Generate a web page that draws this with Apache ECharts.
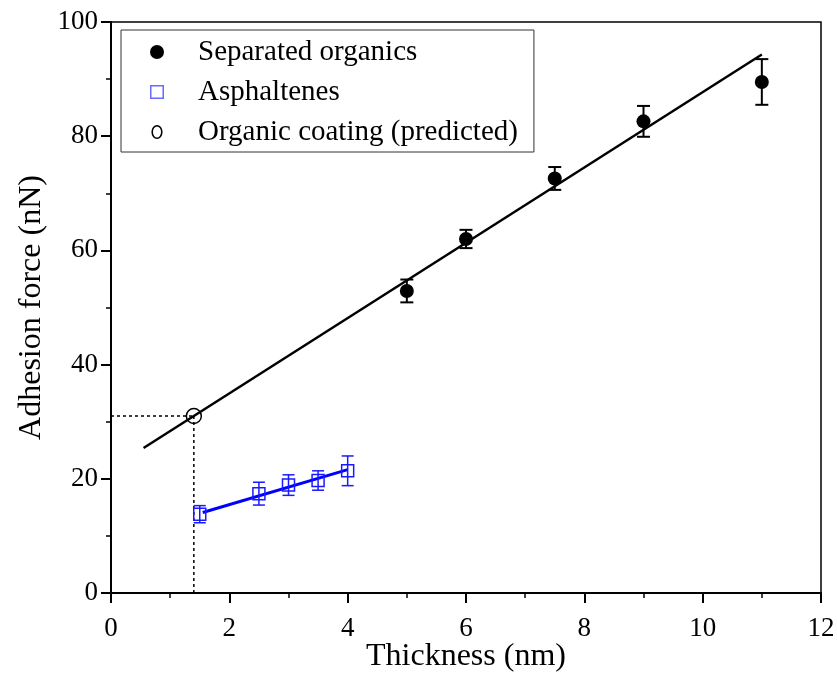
<!DOCTYPE html>
<html>
<head>
<meta charset="utf-8">
<script src="https://cdn.jsdelivr.net/npm/echarts@6/dist/echarts.min.js"></script>
<style>
  html, body { margin: 0; padding: 0; background: #fff; }
  #chart { width: 837px; height: 673px; }
</style>
</head>
<body>
<div id="chart"></div>
<script>
// Separated organics: thickness (nm), adhesion force (nN), error (nN)
const sepThickness = [5, 6, 7.5, 9, 11];
const sepForce     = [52.9, 62.0, 72.6, 82.6, 89.5];
const sepError     = [2.0, 1.6, 2.0, 2.7, 4.0];

// Asphaltenes
const aspThickness = [1.5, 2.5, 3.0, 3.5, 4.0];
const aspForce     = [13.8, 17.4, 18.9, 19.7, 21.4];
const aspError     = [1.5, 2.0, 1.8, 1.7, 2.6];

// Linear fits (end points)
const sepFitX = [0.55, 11.0];
const sepFitY = [25.4, 94.3];
const aspFitX = [1.55, 4.0];
const aspFitY = [14.1, 21.6];

// Predicted organic coating
const predThickness = [1.4];
const predForce     = [31];

// Axis ticks
const xTicks = [0, 2, 4, 6, 8, 10, 12];
const yTicks = [0, 20, 40, 60, 80, 100];

const FONT = '"Liberation Serif", "Times New Roman", serif';
const BLUE = '#1a1aff';

function errorBars(xs, ys, es, color, cap, width) {
  return {
    type: 'custom',
    silent: true,
    z: 3,
    data: xs.map((x, i) => [x, ys[i], es[i]]),
    renderItem: (params, api) => {
      const x = api.value(0), y = api.value(1), e = api.value(2);
      const top = api.coord([x, y + e]);
      const bot = api.coord([x, y - e]);
      const st = { stroke: color, lineWidth: width, fill: null };
      return {
        type: 'group',
        children: [
          { type: 'line', shape: { x1: top[0], y1: top[1], x2: bot[0], y2: bot[1] }, style: st },
          { type: 'line', shape: { x1: top[0] - cap / 2, y1: top[1], x2: top[0] + cap / 2, y2: top[1] }, style: st },
          { type: 'line', shape: { x1: bot[0] - cap / 2, y1: bot[1], x2: bot[0] + cap / 2, y2: bot[1] }, style: st }
        ]
      };
    }
  };
}

const chart = echarts.init(document.getElementById('chart'), null, { renderer: 'canvas' });

const option = {
  backgroundColor: '#fff',
  animation: false,
  grid: {
    left: 111, right: 16, top: 22, bottom: 80,
    outerBoundsMode: 'none', containLabel: false,
    show: true, borderColor: '#000', borderWidth: 1.5, backgroundColor: 'transparent'
  },
  legend: {
    orient: 'vertical',
    left: 121, top: 30,
    itemWidth: 72, itemHeight: 14, itemGap: 10,
    padding: [7, 16, 5, 29],
    borderColor: '#333', borderWidth: 1,
    inactiveColor: '#000',
    textStyle: { fontFamily: FONT, fontSize: 29, color: '#000', lineHeight: 30 },
    data: [
      { name: 'Separated organics', icon: 'circle', itemStyle: { color: '#000', opacity: 1 } },
      { name: 'Asphaltenes',
        icon: 'path://M0,0H12V12H0Z M1.3,1.3V10.7H10.7V1.3Z',
        itemStyle: { color: '#6a6aff', borderWidth: 0, opacity: 1 } },
      { name: 'Organic coating (predicted)',
        icon: 'path://M6,0 A6,7.5 0 1,0 6,15 A6,7.5 0 1,0 6,0 Z M6,1.6 A4.3,5.9 0 1,1 6,13.4 A4.3,5.9 0 1,1 6,1.6 Z',
        itemStyle: { color: '#000', borderWidth: 0, opacity: 1 } }
    ]
  },
  xAxis: {
    type: 'value',
    min: xTicks[0], max: xTicks[xTicks.length - 1], interval: xTicks[1] - xTicks[0],
    name: 'Thickness (nm)', nameLocation: 'middle', nameGap: 48, nameMoveOverlap: false,
    nameTextStyle: { fontFamily: FONT, fontSize: 32, color: '#000' },
    axisLine: { show: true, onZero: false, lineStyle: { color: '#000', width: 2 } },
    axisTick: { show: true, inside: false, length: 10, lineStyle: { color: '#000', width: 2 } },
    minorTick: { show: true, splitNumber: 2, length: 5, lineStyle: { color: '#000', width: 1.5 } },
    axisLabel: { fontFamily: FONT, fontSize: 27, color: '#000', margin: 22 },
    splitLine: { show: false }
  },
  yAxis: {
    type: 'value',
    min: yTicks[0], max: yTicks[yTicks.length - 1], interval: yTicks[1] - yTicks[0],
    name: 'Adhesion force (nN)', nameLocation: 'middle', nameGap: 63, nameMoveOverlap: false,
    nameTextStyle: { fontFamily: FONT, fontSize: 32, color: '#000' },
    axisLine: { show: true, onZero: false, lineStyle: { color: '#000', width: 2 } },
    axisTick: { show: true, inside: false, length: 10, lineStyle: { color: '#000', width: 2 } },
    minorTick: { show: true, splitNumber: 2, length: 5, lineStyle: { color: '#000', width: 1.5 } },
    axisLabel: { fontFamily: FONT, fontSize: 27, color: '#000', margin: 13 },
    splitLine: { show: false }
  },
  series: [
    // guide lines to the predicted point
    {
      type: 'line', silent: true, symbol: 'none', z: 1,
      data: [[predThickness[0], 0], [predThickness[0], predForce[0]]],
      lineStyle: { color: '#000', width: 1.5, type: [3, 3] }
    },
    {
      type: 'line', silent: true, symbol: 'none', z: 1,
      data: [[xTicks[0], predForce[0]], [predThickness[0], predForce[0]]],
      lineStyle: { color: '#000', width: 1.5, type: [3, 3] }
    },
    // fitted lines
    {
      type: 'line', silent: true, symbol: 'none', z: 2,
      data: sepFitX.map((x, i) => [x, sepFitY[i]]),
      lineStyle: { color: '#000', width: 2.5 }
    },
    {
      type: 'line', silent: true, symbol: 'none', z: 2,
      data: aspFitX.map((x, i) => [x, aspFitY[i]]),
      lineStyle: { color: '#0000ff', width: 3 }
    },
    errorBars(sepThickness, sepForce, sepError, '#000', 13, 2),
    errorBars(aspThickness, aspForce, aspError, BLUE, 12, 1.5),
    {
      name: 'Separated organics', type: 'scatter', z: 4,
      symbol: 'circle', symbolSize: 14,
      itemStyle: { color: '#000', opacity: 1 },
      data: sepThickness.map((x, i) => [x, sepForce[i]])
    },
    {
      name: 'Asphaltenes', type: 'scatter', z: 4,
      symbol: 'rect', symbolSize: 12,
      itemStyle: { color: 'rgba(255,255,255,0)', borderColor: BLUE, borderWidth: 1.5, opacity: 1 },
      data: aspThickness.map((x, i) => [x, aspForce[i]])
    },
    {
      name: 'Organic coating (predicted)', type: 'scatter', z: 4,
      symbol: 'circle', symbolSize: 15,
      itemStyle: { color: 'rgba(255,255,255,0)', borderColor: '#000', borderWidth: 1.5, opacity: 1 },
      data: predThickness.map((x, i) => [x, predForce[i]])
    }
  ]
};

chart.setOption(option);
</script>
</body>
</html>
